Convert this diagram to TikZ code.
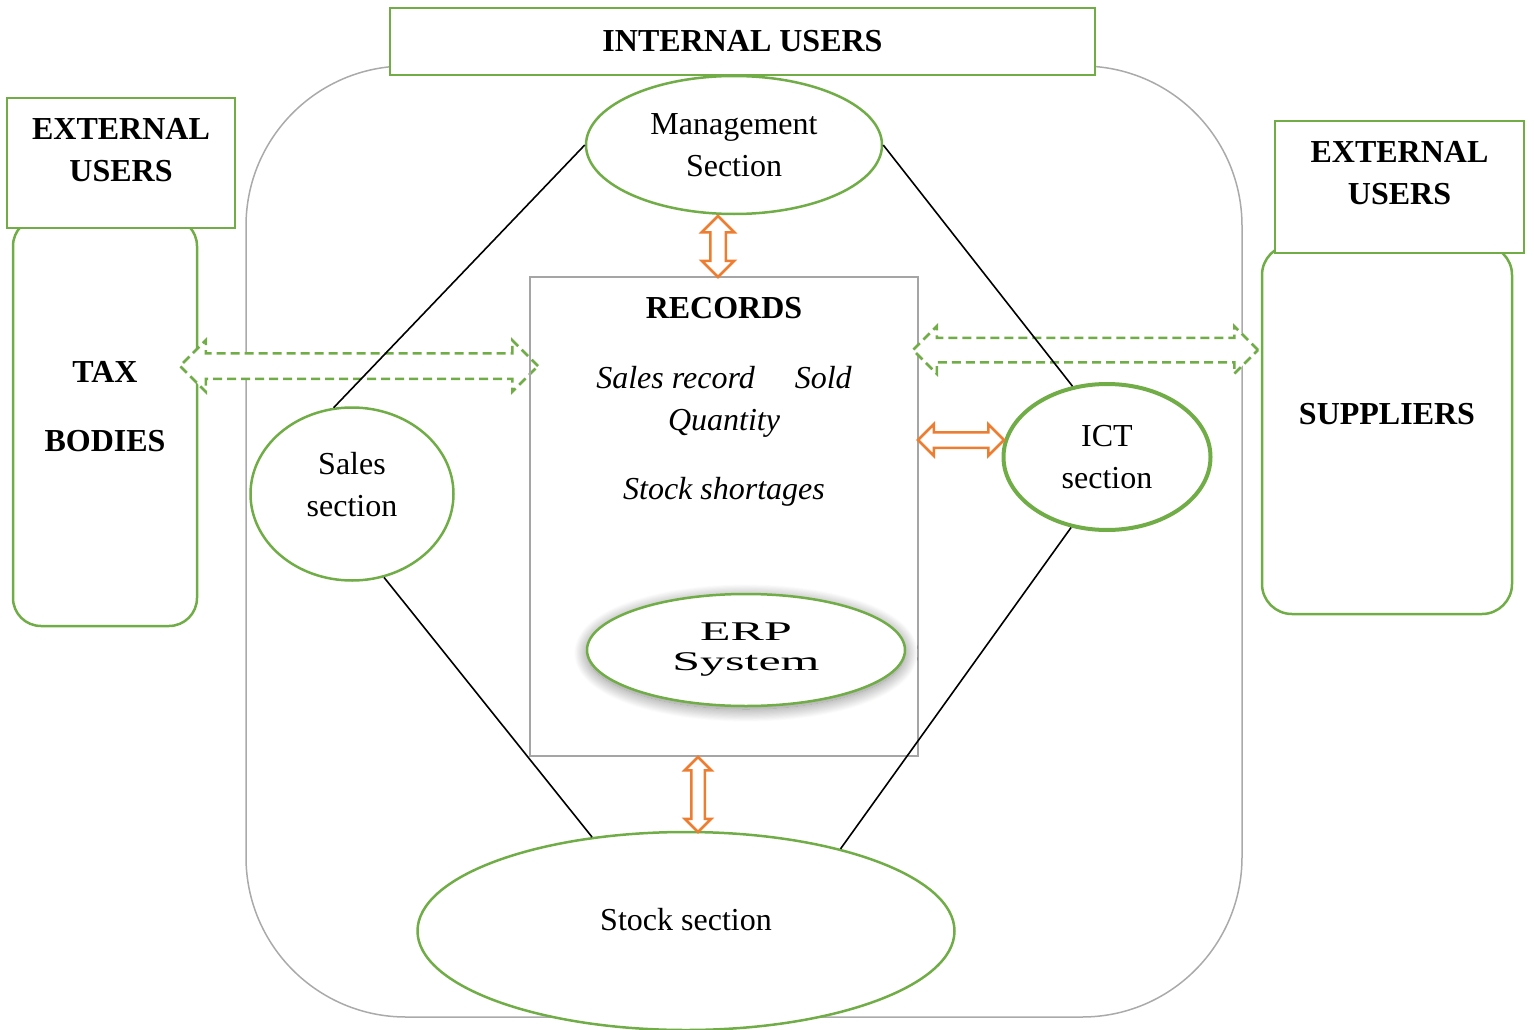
\documentclass[tikz,border=0pt]{standalone}
\usepackage{fontspec}
\setmainfont{Liberation Serif}
\newfontfamily\erpfont[FakeStretch=1.85]{Liberation Serif}
\usetikzlibrary{shapes.geometric, shapes.arrows, shadows.blur, positioning}

\definecolor{usergreen}{RGB}{112,173,71}
\definecolor{linkorange}{RGB}{237,125,49}
\definecolor{recgray}{RGB}{165,165,165}
\definecolor{framegray}{RGB}{170,170,170}

\newcommand{\bodyfont}{\fontsize{32}{42}\selectfont}

\tikzset{
    usersbox/.style={draw=usergreen, line width=2.5pt, fill=white},
    groupbox/.style={draw=usergreen, line width=2.5pt, rounded corners=28pt},
    heading/.style={font=\bodyfont\bfseries, align=center},
    dept/.style={ellipse, draw=usergreen, line width=2.5pt, fill=white, align=center, inner sep=0pt},
    conn/.style={line width=1.6pt},
    datalink/.style={double arrow, draw=usergreen, fill=white, line width=2.5pt, dash pattern=on 9pt off 5pt, double arrow tip angle=90},
    reclink/.style={double arrow, draw=linkorange, fill=white, line width=2.5pt, double arrow tip angle=90}
}

\begin{document}
\begin{tikzpicture}[x=1pt, y=-1pt, font=\bodyfont]
    \useasboundingbox (0,0) rectangle (1534,1030);
    \draw[framegray, line width=1.5pt, rounded corners=160pt] (246,66) rectangle (1242,1017);

    \node[groupbox, minimum width=184pt, minimum height=408pt] (tax) at (105,422) {};
    \node[heading] (taxname) [below=189.5pt of tax.north, anchor=center] {TAX\\[27pt]BODIES};
    \node[groupbox, minimum width=250pt, minimum height=369pt, rounded corners=30pt] (supp) at (1387,429.5) {};
    \node[heading] (suppname) [below=170pt of supp.north, anchor=center] {SUPPLIERS};

    \node[usersbox, minimum width=228pt, minimum height=130pt] (extleft) at (121,163) {};
    \node[heading] (extleftname) [below=53.5pt of extleft.north, anchor=center] {EXTERNAL\\USERS};
    \node[usersbox, minimum width=249pt, minimum height=132pt] (extright) at (1399.5,187) {};
    \node[heading] (extrightname) [below=53.5pt of extright.north, anchor=center] {EXTERNAL\\USERS};
    \node[usersbox, heading, minimum width=705pt, minimum height=67pt] (internal) at (742.5,41.5) {INTERNAL USERS};

    \node[datalink, minimum height=358pt, inner sep=11.5pt, double arrow head extend=13pt] (taxlink) at (359,366) {};

    \node[draw=recgray, line width=2.5pt, minimum width=388pt, minimum height=479pt] (rec) at (724,516.5) {};
    \node[heading] (rectitle) [below=32pt of rec.north, anchor=center] {RECORDS};
    \node[align=center, font=\bodyfont\itshape] (reclist) [below=161pt of rec.north, anchor=center]
        {Sales record\hspace{40pt}Sold\\Quantity\\[27pt]Stock shortages};
    \node[ellipse, draw=usergreen, line width=2.5pt, fill=white, inner sep=0pt, align=center,
          minimum width=318pt, minimum height=112pt, font=\erpfont\fontsize{27}{30}\selectfont,
          blur shadow={shadow xshift=0pt, shadow yshift=-3pt, shadow blur radius=13pt, shadow blur steps=24, shadow opacity=50}]
          (erp) at (746,650) {ERP\\System};

    \node[datalink, minimum height=345pt, inner sep=11pt, double arrow head extend=11.5pt] (supplink) at (1085.5,350) {};

    \node[dept, minimum width=296pt, minimum height=138pt] (mgmt) at (734,145) {Management\\Section};
    \node[dept, minimum width=203pt, minimum height=173pt, text depth=20pt] (sales) at (352,494) {Sales\\section};
    \node[dept, minimum width=207pt, minimum height=146pt, line width=4pt] (ict) at (1107,457) {ICT\\section};
    \node[dept, minimum width=537pt, minimum height=198pt, text depth=24pt] (stock) at (686,931) {Stock section};

    \draw[conn]
        (mgmt.west) edge (sales.102)
        (mgmt.east) edge (ict.116)
        (sales.-69) edge (stock.135)
        (ict.-117) edge (stock.28);

    \node[reclink, minimum height=61pt, inner sep=6.5pt, double arrow head extend=8.5pt, rotate=90] (mgmtlink) at (718,246.5) {};
    \node[reclink, minimum height=86pt, inner sep=6.5pt, double arrow head extend=8pt] (ictlink) at (961,440) {};
    \node[reclink, minimum height=75pt, inner sep=5.5pt, double arrow head extend=6.5pt, rotate=90] (stocklink) at (698,794.5) {};
\end{tikzpicture}
\end{document}
